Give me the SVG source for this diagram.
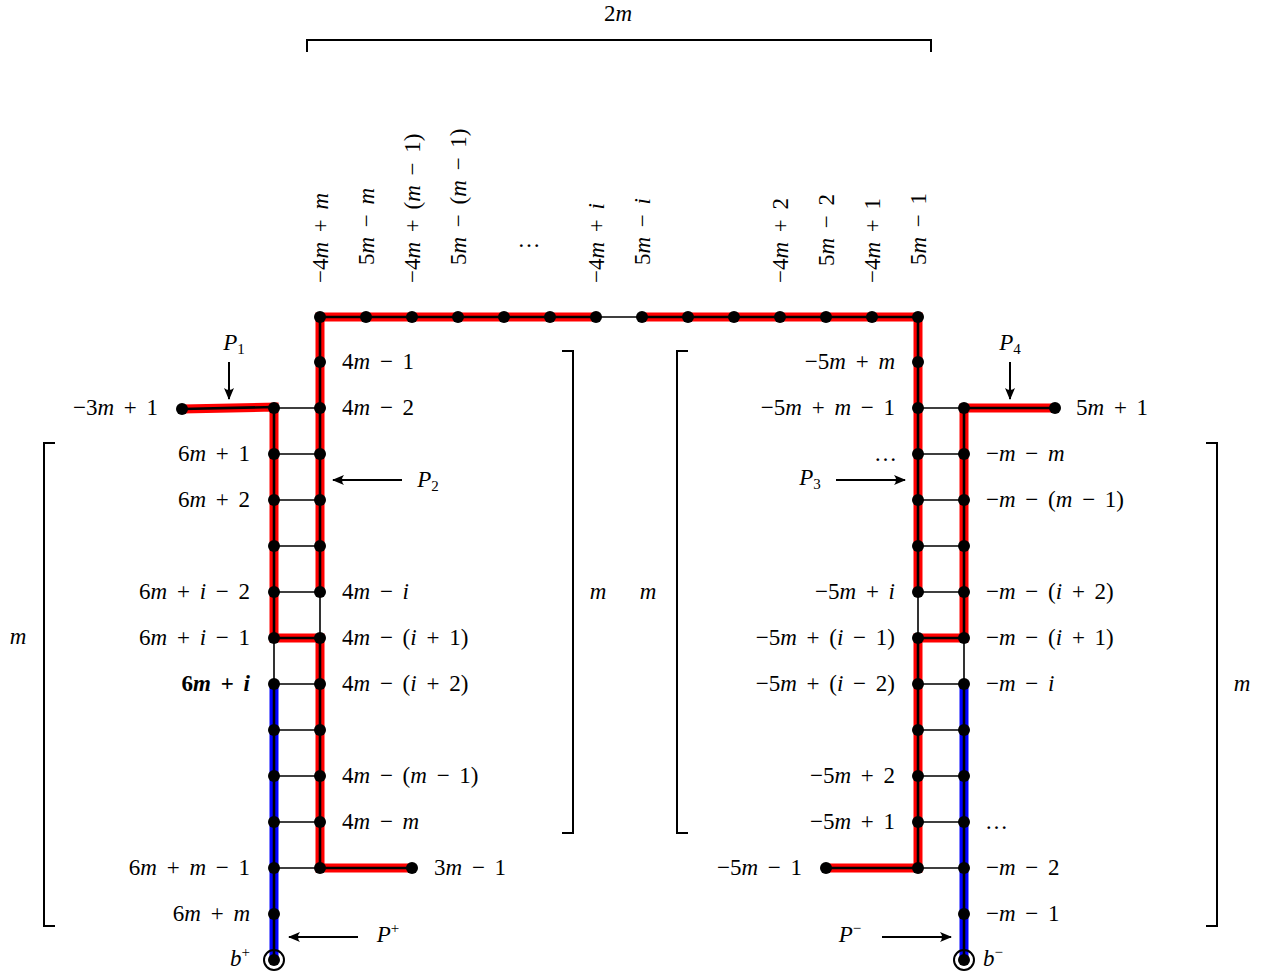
<svg xmlns="http://www.w3.org/2000/svg" width="1266" height="973" viewBox="0 0 1266 973">
<style>
text{font-family:"Liberation Serif","DejaVu Serif",serif;font-size:23px;fill:#000;word-spacing:4px}
.v{font-style:italic}
.e{text-anchor:end}
.c{text-anchor:middle}
.b{font-weight:bold}
.sub{font-size:15px}
.edge{stroke:#000;stroke-width:1.6;fill:none}
.red{stroke:#f00;stroke-width:9;fill:none;stroke-linejoin:miter}
.blue{stroke:#00f;stroke-width:9;fill:none}
.core{stroke:#000;stroke-width:2.6;fill:none}
.br{stroke:#000;stroke-width:2;fill:none}
.arr{stroke:#000;stroke-width:2;fill:none;marker-end:url(#ah)}
circle.n{fill:#000}
</style>
<defs>
<marker id="ah" viewBox="-12 -6 14 12" refX="0" refY="0" markerWidth="14" markerHeight="12" markerUnits="userSpaceOnUse" orient="auto">
<path d="M1,0 L-11,-5 Q-7,0 -11,5 Z" fill="#000"/>
</marker>
</defs>

<g id="brackets">
<path class="br" d="M307,52 V40 H931 V52"/>
<text class="c" x="618" y="21">2<tspan class="v">m</tspan></text>
<path class="br" d="M55,443 H44 V926 H55"/>
<text class="c" x="18" y="644"><tspan class="v">m</tspan></text>
<path class="br" d="M562,351 H573 V833 H562"/>
<text class="c" x="598" y="599"><tspan class="v">m</tspan></text>
<path class="br" d="M688,351 H677 V833 H688"/>
<text class="c" x="648" y="599"><tspan class="v">m</tspan></text>
<path class="br" d="M1206,443 H1217 V926 H1206"/>
<text class="c" x="1242" y="691"><tspan class="v">m</tspan></text>
</g>

<g id="connectors">
<!-- colored paths -->
<path class="red" d="M182,409 L274,407 L274,638 L320,638 L320,868 L412,868"/>
<path class="red" d="M596,317 L320,317 L320,592"/>
<path class="red" d="M642,317 L918,317 L918,592"/>
<path class="red" d="M1055,408 L964,408 L964,638 L918,638 L918,868 L826,868"/>
<path class="blue" d="M274,684 L274,960"/>
<path class="blue" d="M964,684 L964,960"/>
<!-- graph edges -->
<path class="edge" d="M320,317 H918 M320,317 V868 M274,408 V960 M918,317 V868 M964,408 V960"/>
<path class="edge" d="M274,408 H320 M274,454 H320 M274,500 H320 M274,546 H320 M274,592 H320 M274,638 H320 M274,684 H320 M274,730 H320 M274,776 H320 M274,822 H320 M274,868 H320"/>
<path class="edge" d="M918,408 H964 M918,454 H964 M918,500 H964 M918,546 H964 M918,592 H964 M918,638 H964 M918,684 H964 M918,730 H964 M918,776 H964 M918,822 H964 M918,868 H964"/>
<!-- path cores -->
<path class="core" d="M182,409 L274,407 L274,638 L320,638 L320,868 L412,868"/>
<path class="core" d="M596,317 L320,317 L320,592"/>
<path class="core" d="M642,317 L918,317 L918,592"/>
<path class="core" d="M1055,408 L964,408 L964,638 L918,638 L918,868 L826,868"/>
<path class="core" d="M274,684 L274,960"/>
<path class="core" d="M964,684 L964,960"/>
<!-- arrows -->
<path class="arr" d="M229,362 V399"/>
<path class="arr" d="M402,480 H333"/>
<path class="arr" d="M836,480 H905"/>
<path class="arr" d="M1010,362 V399"/>
<path class="arr" d="M358,937 H289"/>
<path class="arr" d="M882,937 H951"/>
</g>

<g id="path-labels">
<text class="c" x="234" y="350"><tspan class="v">P</tspan><tspan class="sub" dy="4">1</tspan></text>
<text class="c" x="428" y="487"><tspan class="v">P</tspan><tspan class="sub" dy="4">2</tspan></text>
<text class="c" x="810" y="485"><tspan class="v">P</tspan><tspan class="sub" dy="4">3</tspan></text>
<text class="c" x="1010" y="350"><tspan class="v">P</tspan><tspan class="sub" dy="4">4</tspan></text>
<text class="c" x="388" y="942"><tspan class="v">P</tspan><tspan class="sub" dy="-9">+</tspan></text>
<text class="c" x="850" y="942"><tspan class="v">P</tspan><tspan class="sub" dy="-9">−</tspan></text>
<text class="c" x="529" y="247">…</text>
</g>

<!-- top row nodes -->
<g id="t1"><circle class="n" cx="320" cy="317" r="6"/><text transform="translate(328,283) rotate(-90)">−4<tspan class="v">m</tspan> + <tspan class="v">m</tspan></text></g>
<g id="t2"><circle class="n" cx="366" cy="317" r="6"/><text transform="translate(374,265) rotate(-90)">5<tspan class="v">m</tspan> − <tspan class="v">m</tspan></text></g>
<g id="t3"><circle class="n" cx="412" cy="317" r="6"/><text transform="translate(420,283) rotate(-90)">−4<tspan class="v">m</tspan> + (<tspan class="v">m</tspan> − 1)</text></g>
<g id="t4"><circle class="n" cx="458" cy="317" r="6"/><text transform="translate(466,265) rotate(-90)">5<tspan class="v">m</tspan> − (<tspan class="v">m</tspan> − 1)</text></g>
<g id="t5"><circle class="n" cx="504" cy="317" r="6"/></g>
<g id="t6"><circle class="n" cx="550" cy="317" r="6"/></g>
<g id="t7"><circle class="n" cx="596" cy="317" r="6"/><text transform="translate(604,283) rotate(-90)">−4<tspan class="v">m</tspan> + <tspan class="v">i</tspan></text></g>
<g id="t8"><circle class="n" cx="642" cy="317" r="6"/><text transform="translate(650,265) rotate(-90)">5<tspan class="v">m</tspan> − <tspan class="v">i</tspan></text></g>
<g id="t9"><circle class="n" cx="688" cy="317" r="6"/></g>
<g id="t10"><circle class="n" cx="734" cy="317" r="6"/></g>
<g id="t11"><circle class="n" cx="780" cy="317" r="6"/><text transform="translate(788,283) rotate(-90)">−4<tspan class="v">m</tspan> + 2</text></g>
<g id="t12"><circle class="n" cx="826" cy="317" r="6"/><text transform="translate(834,266) rotate(-90)">5<tspan class="v">m</tspan> − 2</text></g>
<g id="t13"><circle class="n" cx="872" cy="317" r="6"/><text transform="translate(880,283) rotate(-90)">−4<tspan class="v">m</tspan> + 1</text></g>
<g id="t14"><circle class="n" cx="918" cy="317" r="6"/><text transform="translate(926,265) rotate(-90)">5<tspan class="v">m</tspan> − 1</text></g>

<!-- column x=320 -->
<g id="a1"><circle class="n" cx="320" cy="362" r="6"/><text x="342" y="369">4<tspan class="v">m</tspan> − 1</text></g>
<g id="a2"><circle class="n" cx="320" cy="408" r="6"/><text x="342" y="415">4<tspan class="v">m</tspan> − 2</text></g>
<g id="a3"><circle class="n" cx="320" cy="454" r="6"/></g>
<g id="a4"><circle class="n" cx="320" cy="500" r="6"/></g>
<g id="a5"><circle class="n" cx="320" cy="546" r="6"/></g>
<g id="a6"><circle class="n" cx="320" cy="592" r="6"/><text x="342" y="599">4<tspan class="v">m</tspan> − <tspan class="v">i</tspan></text></g>
<g id="a7"><circle class="n" cx="320" cy="638" r="6"/><text x="342" y="645">4<tspan class="v">m</tspan> − (<tspan class="v">i</tspan> + 1)</text></g>
<g id="a8"><circle class="n" cx="320" cy="684" r="6"/><text x="342" y="691">4<tspan class="v">m</tspan> − (<tspan class="v">i</tspan> + 2)</text></g>
<g id="a9"><circle class="n" cx="320" cy="730" r="6"/></g>
<g id="a10"><circle class="n" cx="320" cy="776" r="6"/><text x="342" y="783">4<tspan class="v">m</tspan> − (<tspan class="v">m</tspan> − 1)</text></g>
<g id="a11"><circle class="n" cx="320" cy="822" r="6"/><text x="342" y="829">4<tspan class="v">m</tspan> − <tspan class="v">m</tspan></text></g>
<g id="a12"><circle class="n" cx="320" cy="868" r="6"/></g>
<g id="a13"><circle class="n" cx="412" cy="868" r="6"/><text x="434" y="875">3<tspan class="v">m</tspan> − 1</text></g>

<!-- column x=274 -->
<g id="b0"><circle class="n" cx="182" cy="409" r="6"/><text class="e" x="158" y="415">−3<tspan class="v">m</tspan> + 1</text></g>
<g id="b1"><circle class="n" cx="274" cy="408" r="6"/></g>
<g id="b2"><circle class="n" cx="274" cy="454" r="6"/><text class="e" x="250" y="461">6<tspan class="v">m</tspan> + 1</text></g>
<g id="b3"><circle class="n" cx="274" cy="500" r="6"/><text class="e" x="250" y="507">6<tspan class="v">m</tspan> + 2</text></g>
<g id="b4"><circle class="n" cx="274" cy="546" r="6"/></g>
<g id="b5"><circle class="n" cx="274" cy="592" r="6"/><text class="e" x="250" y="599">6<tspan class="v">m</tspan> + <tspan class="v">i</tspan> − 2</text></g>
<g id="b6"><circle class="n" cx="274" cy="638" r="6"/><text class="e" x="250" y="645">6<tspan class="v">m</tspan> + <tspan class="v">i</tspan> − 1</text></g>
<g id="b7"><circle class="n" cx="274" cy="684" r="6"/><text class="e b" x="250" y="691">6<tspan class="v">m</tspan> + <tspan class="v">i</tspan></text></g>
<g id="b8"><circle class="n" cx="274" cy="730" r="6"/></g>
<g id="b9"><circle class="n" cx="274" cy="776" r="6"/></g>
<g id="b10"><circle class="n" cx="274" cy="822" r="6"/></g>
<g id="b11"><circle class="n" cx="274" cy="868" r="6"/><text class="e" x="250" y="875">6<tspan class="v">m</tspan> + <tspan class="v">m</tspan> − 1</text></g>
<g id="b12"><circle class="n" cx="274" cy="914" r="6"/><text class="e" x="250" y="921">6<tspan class="v">m</tspan> + <tspan class="v">m</tspan></text></g>
<g id="bplus"><circle cx="274" cy="960" r="10" fill="none" stroke="#000" stroke-width="2"/><circle class="n" cx="274" cy="960" r="6"/><text class="e" x="250" y="966"><tspan class="v">b</tspan><tspan class="sub" dy="-9">+</tspan></text></g>

<!-- column x=918 -->
<g id="c1"><circle class="n" cx="918" cy="362" r="6"/><text class="e" x="895" y="369">−5<tspan class="v">m</tspan> + <tspan class="v">m</tspan></text></g>
<g id="c2"><circle class="n" cx="918" cy="408" r="6"/><text class="e" x="895" y="415">−5<tspan class="v">m</tspan> + <tspan class="v">m</tspan> − 1</text></g>
<g id="c3"><circle class="n" cx="918" cy="454" r="6"/><text class="e" x="897" y="461">…</text></g>
<g id="c4"><circle class="n" cx="918" cy="500" r="6"/></g>
<g id="c5"><circle class="n" cx="918" cy="546" r="6"/></g>
<g id="c6"><circle class="n" cx="918" cy="592" r="6"/><text class="e" x="895" y="599">−5<tspan class="v">m</tspan> + <tspan class="v">i</tspan></text></g>
<g id="c7"><circle class="n" cx="918" cy="638" r="6"/><text class="e" x="895" y="645">−5<tspan class="v">m</tspan> + (<tspan class="v">i</tspan> − 1)</text></g>
<g id="c8"><circle class="n" cx="918" cy="684" r="6"/><text class="e" x="895" y="691">−5<tspan class="v">m</tspan> + (<tspan class="v">i</tspan> − 2)</text></g>
<g id="c9"><circle class="n" cx="918" cy="730" r="6"/></g>
<g id="c10"><circle class="n" cx="918" cy="776" r="6"/><text class="e" x="895" y="783">−5<tspan class="v">m</tspan> + 2</text></g>
<g id="c11"><circle class="n" cx="918" cy="822" r="6"/><text class="e" x="895" y="829">−5<tspan class="v">m</tspan> + 1</text></g>
<g id="c12"><circle class="n" cx="918" cy="868" r="6"/></g>
<g id="c13"><circle class="n" cx="826" cy="868" r="6"/><text class="e" x="802" y="875">−5<tspan class="v">m</tspan> − 1</text></g>

<!-- column x=964 -->
<g id="d0"><circle class="n" cx="1055" cy="408" r="6"/><text x="1076" y="415">5<tspan class="v">m</tspan> + 1</text></g>
<g id="d1"><circle class="n" cx="964" cy="408" r="6"/></g>
<g id="d2"><circle class="n" cx="964" cy="454" r="6"/><text x="986" y="461">−<tspan class="v">m</tspan> − <tspan class="v">m</tspan></text></g>
<g id="d3"><circle class="n" cx="964" cy="500" r="6"/><text x="986" y="507">−<tspan class="v">m</tspan> − (<tspan class="v">m</tspan> − 1)</text></g>
<g id="d4"><circle class="n" cx="964" cy="546" r="6"/></g>
<g id="d5"><circle class="n" cx="964" cy="592" r="6"/><text x="986" y="599">−<tspan class="v">m</tspan> − (<tspan class="v">i</tspan> + 2)</text></g>
<g id="d6"><circle class="n" cx="964" cy="638" r="6"/><text x="986" y="645">−<tspan class="v">m</tspan> − (<tspan class="v">i</tspan> + 1)</text></g>
<g id="d7"><circle class="n" cx="964" cy="684" r="6"/><text x="986" y="691">−<tspan class="v">m</tspan> − <tspan class="v">i</tspan></text></g>
<g id="d8"><circle class="n" cx="964" cy="730" r="6"/></g>
<g id="d9"><circle class="n" cx="964" cy="776" r="6"/></g>
<g id="d10"><circle class="n" cx="964" cy="822" r="6"/><text x="985" y="829">…</text></g>
<g id="d11"><circle class="n" cx="964" cy="868" r="6"/><text x="986" y="875">−<tspan class="v">m</tspan> − 2</text></g>
<g id="d12"><circle class="n" cx="964" cy="914" r="6"/><text x="986" y="921">−<tspan class="v">m</tspan> − 1</text></g>
<g id="bminus"><circle cx="964" cy="960" r="10" fill="none" stroke="#000" stroke-width="2"/><circle class="n" cx="964" cy="960" r="6"/><text x="983" y="966"><tspan class="v">b</tspan><tspan class="sub" dy="-9">−</tspan></text></g>
</svg>
